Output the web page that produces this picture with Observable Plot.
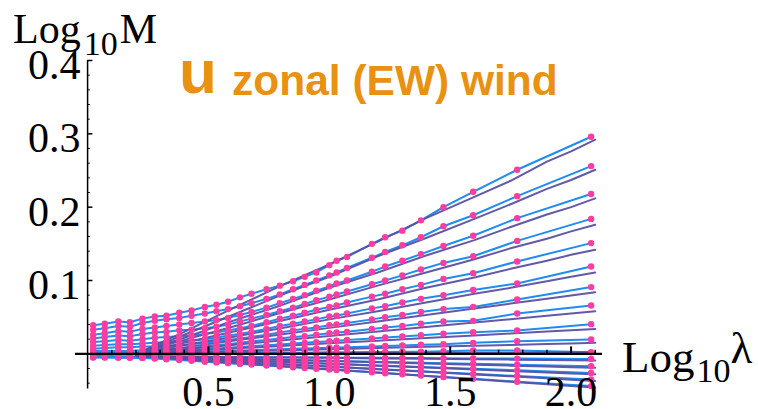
<!DOCTYPE html>
<html>
<head>
<meta charset="utf-8">
<script src="https://cdn.jsdelivr.net/npm/d3@7"></script>
<script src="https://cdn.jsdelivr.net/npm/@observablehq/plot@0.6"></script>
<style>
  html, body { margin: 0; padding: 0; background: white; }
  svg { overflow: visible; }
</style>
</head>
<body>
<div id="chart"></div>
<script>
// Log10 lambda columns of the observed moments
const logLambda = [0.023, 0.071, 0.127, 0.175, 0.227, 0.278, 0.326, 0.379, 0.43, 0.485, 0.533, 0.581, 0.63, 0.678, 0.74, 0.795, 0.85, 0.898, 0.946, 1.0, 1.03, 1.073, 1.176, 1.231, 1.302, 1.379, 1.472, 1.595, 1.777, 2.083];

// observed Log10 M, one array per moment order (top to bottom)
const obs01 = [0.039, 0.041, 0.044, 0.043, 0.048, 0.051, 0.052, 0.056, 0.059, 0.064, 0.067, 0.071, 0.077, 0.082, 0.088, 0.093, 0.099, 0.105, 0.111, 0.121, 0.127, 0.132, 0.150, 0.159, 0.168, 0.182, 0.200, 0.221, 0.251, 0.296];
const obs02 = [0.033, 0.035, 0.038, 0.037, 0.042, 0.045, 0.047, 0.049, 0.052, 0.055, 0.058, 0.061, 0.065, 0.069, 0.075, 0.081, 0.088, 0.094, 0.100, 0.107, 0.111, 0.117, 0.131, 0.139, 0.148, 0.159, 0.174, 0.189, 0.215, 0.256];
const obs03 = [0.026, 0.028, 0.031, 0.030, 0.034, 0.036, 0.038, 0.040, 0.042, 0.044, 0.046, 0.049, 0.053, 0.057, 0.063, 0.069, 0.075, 0.080, 0.086, 0.092, 0.096, 0.100, 0.112, 0.119, 0.127, 0.136, 0.147, 0.161, 0.185, 0.218];
const obs04 = [0.021, 0.023, 0.025, 0.024, 0.027, 0.029, 0.030, 0.032, 0.033, 0.035, 0.037, 0.040, 0.044, 0.048, 0.053, 0.058, 0.063, 0.068, 0.073, 0.078, 0.081, 0.085, 0.095, 0.100, 0.107, 0.115, 0.124, 0.133, 0.154, 0.184];
const obs05 = [0.016, 0.017, 0.019, 0.018, 0.020, 0.022, 0.023, 0.024, 0.025, 0.027, 0.029, 0.032, 0.035, 0.038, 0.043, 0.048, 0.052, 0.056, 0.060, 0.064, 0.066, 0.070, 0.078, 0.082, 0.088, 0.094, 0.102, 0.110, 0.126, 0.151];
const obs06 = [0.011, 0.012, 0.013, 0.013, 0.014, 0.015, 0.016, 0.017, 0.018, 0.020, 0.022, 0.025, 0.027, 0.030, 0.034, 0.038, 0.041, 0.044, 0.047, 0.051, 0.052, 0.055, 0.062, 0.065, 0.070, 0.075, 0.080, 0.087, 0.096, 0.119];
const obs07 = [0.007, 0.008, 0.009, 0.009, 0.010, 0.010, 0.011, 0.011, 0.013, 0.015, 0.017, 0.019, 0.021, 0.023, 0.026, 0.029, 0.032, 0.034, 0.036, 0.039, 0.040, 0.042, 0.047, 0.050, 0.053, 0.057, 0.061, 0.064, 0.074, 0.091];
const obs08 = [0.004, 0.004, 0.004, 0.004, 0.005, 0.005, 0.006, 0.007, 0.008, 0.010, 0.012, 0.013, 0.015, 0.017, 0.019, 0.021, 0.023, 0.024, 0.026, 0.028, 0.029, 0.030, 0.034, 0.036, 0.038, 0.041, 0.044, 0.045, 0.055, 0.066];
const obs09 = [0.0015, 0.0016, 0.0018, 0.0018, 0.002, 0.0024, 0.003, 0.0041, 0.0049, 0.0061, 0.0072, 0.0082, 0.0092, 0.0103, 0.0116, 0.0128, 0.014, 0.015, 0.016, 0.0172, 0.0178, 0.0188, 0.021, 0.0222, 0.0237, 0.0253, 0.0273, 0.0295, 0.0318, 0.0405];
const obs10 = [0.0005, 0.0006, 0.0006, 0.0007, 0.0008, 0.001, 0.0014, 0.0019, 0.0024, 0.003, 0.0035, 0.004, 0.0045, 0.005, 0.0056, 0.0062, 0.0068, 0.0072, 0.0077, 0.0083, 0.0086, 0.009, 0.0101, 0.0107, 0.0115, 0.0123, 0.0132, 0.015, 0.0173, 0.0196];
const obs11 = [0, 0, 0, -0.0002, 0, 0, 0.0002, 0.0003, 0.0004, 0.0005, 0.0006, 0.0008, 0.0009, 0.001, 0.0012, 0.0014, 0.0015, 0.0016, 0.0018, 0.002, 0.002, 0.0021, 0.0024, 0.0026, 0.0028, 0.003, 0.0035, 0.0045, 0.0045, 0.0023];
const obs12 = [-0.003, -0.003, -0.0032, -0.0035, -0.0035, -0.0036, -0.0037, -0.0038, -0.004, -0.0041, -0.0042, -0.0043, -0.0044, -0.0045, -0.0046, -0.0047, -0.0048, -0.0049, -0.005, -0.0051, -0.0052, -0.0052, -0.0054, -0.0055, -0.0057, -0.0058, -0.006, -0.0062, -0.0065, -0.007];
const obs13 = [-0.0035, -0.0036, -0.0038, -0.004, -0.0042, -0.0045, -0.0049, -0.0053, -0.0056, -0.006, -0.0063, -0.0066, -0.007, -0.0073, -0.0077, -0.0081, -0.0085, -0.0088, -0.0092, -0.0095, -0.0097, -0.01, -0.0107, -0.0111, -0.0116, -0.0121, -0.0127, -0.0136, -0.0149, -0.017];
const obs14 = [-0.004, -0.0041, -0.0043, -0.0045, -0.0047, -0.0049, -0.0055, -0.0061, -0.0067, -0.0073, -0.0078, -0.0084, -0.009, -0.0095, -0.0103, -0.011, -0.0116, -0.0122, -0.0127, -0.0134, -0.0137, -0.0142, -0.0155, -0.0161, -0.0169, -0.0178, -0.0189, -0.0203, -0.0225, -0.026];
const obs15 = [-0.0045, -0.0046, -0.0048, -0.005, -0.0052, -0.0057, -0.0064, -0.0073, -0.0081, -0.009, -0.0098, -0.0106, -0.0114, -0.0122, -0.0132, -0.0141, -0.015, -0.0158, -0.0166, -0.0175, -0.018, -0.0187, -0.0204, -0.0213, -0.0225, -0.0237, -0.0253, -0.0273, -0.0303, -0.035];
const obs16 = [-0.005, -0.0051, -0.0053, -0.0055, -0.0057, -0.0064, -0.0074, -0.0085, -0.0096, -0.0107, -0.0117, -0.0127, -0.0137, -0.0147, -0.016, -0.0172, -0.0183, -0.0193, -0.0204, -0.0215, -0.0221, -0.023, -0.0252, -0.0264, -0.0279, -0.0295, -0.0315, -0.0341, -0.038, -0.044];

// model (fitted cascade) curves
const fitX = [0.2, 0.4, 0.6, 0.8, 1.0, 1.2, 1.4, 1.6, 1.75, 1.9, 2.0, 2.1];
const fit01 = [0, 0.030, 0.062, 0.093, 0.122, 0.153, 0.185, 0.214, 0.236, 0.262, 0.276, 0.292];
const fit02 = [0, 0.026, 0.053, 0.080, 0.105, 0.133, 0.158, 0.184, 0.204, 0.225, 0.237, 0.251];
const fit03 = [0, 0.022, 0.045, 0.066, 0.090, 0.111, 0.134, 0.155, 0.173, 0.190, 0.200, 0.212];
const fit04 = [0, 0.019, 0.037, 0.056, 0.074, 0.093, 0.111, 0.129, 0.144, 0.157, 0.167, 0.176];
const fit05 = [0, 0.015, 0.030, 0.045, 0.060, 0.074, 0.090, 0.104, 0.116, 0.127, 0.135, 0.142];
const fit06 = [0, 0.012, 0.023, 0.035, 0.047, 0.058, 0.070, 0.082, 0.090, 0.099, 0.105, 0.111];
const fit07 = [0, 0.0088, 0.0177, 0.0265, 0.0354, 0.0442, 0.0531, 0.0619, 0.0685, 0.0752, 0.0796, 0.084];
const fit08 = [0, 0.0061, 0.0122, 0.0183, 0.0244, 0.0305, 0.0366, 0.0427, 0.0473, 0.0519, 0.0549, 0.058];
const fit09 = [0, 0.0036, 0.0072, 0.0107, 0.0143, 0.0179, 0.0215, 0.0251, 0.0277, 0.0304, 0.0322, 0.034];
const fit10 = [0, 0.0016, 0.0032, 0.0047, 0.0063, 0.0079, 0.0095, 0.0111, 0.0122, 0.0134, 0.0142, 0.015];
const fit11 = [0, 0.0002, 0.0004, 0.0006, 0.0008, 0.0011, 0.0013, 0.0015, 0.0016, 0.0018, 0.0019, 0.002];
const fit12 = [-0.003, -0.0036, -0.0043, -0.0049, -0.0055, -0.0062, -0.0068, -0.0074, -0.0079, -0.0084, -0.0087, -0.009];
const fit13 = [-0.003, -0.0047, -0.0064, -0.0081, -0.0097, -0.0114, -0.0131, -0.0148, -0.0161, -0.0173, -0.0182, -0.019];
const fit14 = [-0.003, -0.0056, -0.0083, -0.0109, -0.0135, -0.0162, -0.0188, -0.0214, -0.0234, -0.0254, -0.0267, -0.028];
const fit15 = [-0.003, -0.0066, -0.0102, -0.0137, -0.0173, -0.0209, -0.0245, -0.0281, -0.0307, -0.0334, -0.0352, -0.037];
const fit16 = [-0.003, -0.0075, -0.0121, -0.0166, -0.0211, -0.0256, -0.0302, -0.0347, -0.0381, -0.0415, -0.0437, -0.046];

// axis ticks and labels
const xMajor = [0.5, 1.0, 1.5, 2.0];
const xLabels = ["0.5", "1.0", "1.5", "2.0"];
const xMinor = [0.1, 0.2, 0.3, 0.4, 0.6, 0.7, 0.8, 0.9, 1.1, 1.2, 1.3, 1.4, 1.6, 1.7, 1.8, 1.9, 2.1];
const yMajor = [0.1, 0.2, 0.3, 0.4];
const yLabels = ["0.1", "0.2", "0.3", "0.4"];
const yMinor = [-0.04, -0.02, 0.02, 0.04, 0.06, 0.08, 0.12, 0.14, 0.16, 0.18, 0.22, 0.24, 0.26, 0.28, 0.32, 0.34, 0.36, 0.38];

const obsSeries = [obs01, obs02, obs03, obs04, obs05, obs06, obs07, obs08, obs09, obs10, obs11, obs12, obs13, obs14, obs15, obs16];
const fitSeries = [fit01, fit02, fit03, fit04, fit05, fit06, fit07, fit08, fit09, fit10, fit11, fit12, fit13, fit14, fit15, fit16];
const obsRows = obsSeries.flatMap((s, k) => s.map((v, i) => ({x: logLambda[i], y: v, series: k})));
const fitRows = fitSeries.flatMap((s, k) => s.map((v, i) => ({x: fitX[i], y: v, series: k})));

const serif = "'Liberation Serif', 'Times New Roman', serif";
const blue = "#1e8cf0";
const purple = "#5a50a4";
const pink = "#ff3c9f";

const chart = Plot.plot({
  width: 758,
  height: 409,
  marginLeft: 75,
  marginRight: 156,
  marginTop: 60,
  marginBottom: 19,
  x: {domain: [-0.05, 2.13], axis: null},
  y: {domain: [-0.05, 0.4], axis: null},
  style: {background: "white", overflow: "visible"},
  marks: [
    Plot.line(obsRows, {x: "x", y: "y", z: "series", stroke: blue, strokeWidth: 2}),
    Plot.line(fitRows, {x: "x", y: "y", z: "series", stroke: purple, strokeWidth: 2, strokeOpacity: 0.95}),
    Plot.dot(obsRows, {x: "x", y: "y", r: 3.2, fill: pink, stroke: "none"}),
    Plot.ruleY([0], {stroke: "black", strokeWidth: 2.2}),
    Plot.ruleX([0], {y1: -0.048, y2: 0.4, stroke: "black", strokeWidth: 1.5}),
    Plot.ruleY(yMajor, {y: d => d, x1: 0, x2: 0.022, stroke: "black", strokeWidth: 1.5}),
    Plot.ruleY(yMinor, {y: d => d, x1: 0, x2: 0.011, stroke: "black", strokeWidth: 1}),
    Plot.ruleX(xMajor, {x: d => d, y1: 0, y2: 0.0095, stroke: "black", strokeWidth: 2}),
    Plot.ruleX(xMinor, {x: d => d, y1: 0, y2: 0.005, stroke: "black", strokeWidth: 1.5}),
    Plot.text(yMajor, {x: 0, y: d => d, text: (d, i) => yLabels[i], dx: -7, dy: 5, textAnchor: "end", fontSize: 42, fontFamily: serif, fill: "black"}),
    Plot.text(xMajor, {x: d => d, y: -0.05, text: (d, i) => xLabels[i], dy: 2, fontSize: 42, fontFamily: serif, fill: "black"})
  ]
});

document.getElementById("chart").appendChild(chart);

// axis names with subscripts and the title, as real SVG text
const svg = d3.select(chart);
const yName = svg.append("text").attr("x", 13).attr("y", 43).attr("text-anchor", "start")
  .attr("font-family", serif).attr("font-size", 42).attr("fill", "black");
yName.append("tspan").text("Log");
yName.append("tspan").attr("font-size", 34).attr("dx", 3).attr("dy", 12).text("10");
yName.append("tspan").attr("dx", 2).attr("dy", -12).text("M");

const xName = svg.append("text").attr("x", 622).attr("y", 372).attr("text-anchor", "start")
  .attr("font-family", serif).attr("font-size", 45).attr("fill", "black");
xName.append("tspan").text("Log");
xName.append("tspan").attr("font-size", 34).attr("dx", 2).attr("dy", 10).text("10");
xName.append("tspan").attr("dx", 0).attr("dy", -19).text("λ");

const title = svg.append("g").attr("font-family", "'Liberation Sans', Arial, sans-serif")
  .attr("text-anchor", "start").attr("font-weight", "bold").attr("fill", "#e99110");
title.append("text").attr("x", 179).attr("y", 93).attr("font-size", 62).text("u");
title.append("text").attr("x", 232).attr("y", 95).attr("font-size", 42.5).text("zonal (EW) wind");
</script>
</body>
</html>
